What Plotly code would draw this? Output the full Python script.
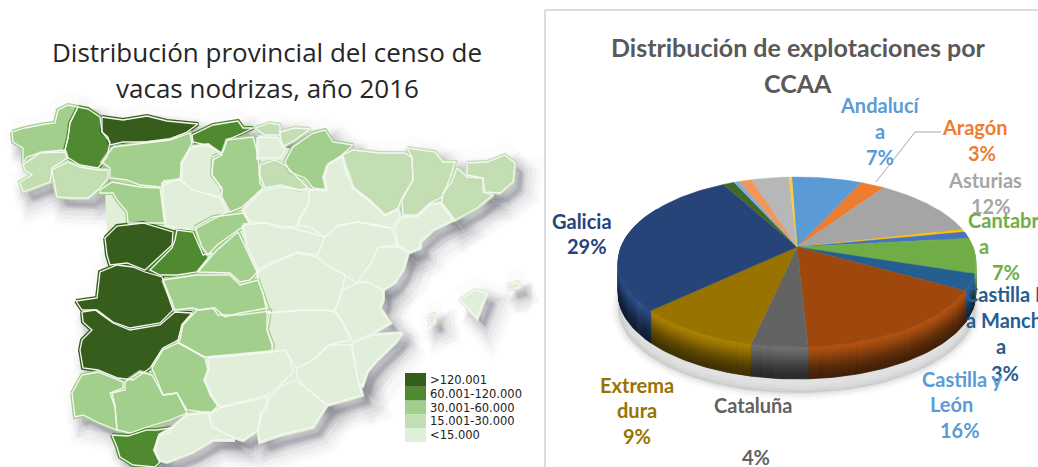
import math
import plotly.graph_objects as go

# ---------- map data: province outlines on the map's own grid, and census class ----------
LEVEL_COLORS = ["#375d1d", "#4f8a30", "#a3cf8c", "#c2deb2", "#e1eed9"]
LEGEND_LABELS = [">120.001", "60.001-120.000", "30.001-60.000", "15.001-30.000", "<15.000"]
PROVINCES = {
 "A Coruña": (2, [(12,132),(25,128),(45,124),(55,123),(58,110),(68,105),(78,107),(70,123),(68,138),(65,150),(43,152),(27,157),(23,163),(23,148),(13,142)]),
 "Lugo": (1, [(78,107),(88,109),(100,117),(102,132),(110,142),(107,157),(98,168),(80,165),(67,157),(65,150),(68,138),(70,123)]),
 "Asturias": (0, [(102,117),(123,120),(147,116),(167,121),(198,124),(187,132),(170,139),(147,142),(123,142),(110,145),(108,137),(102,132)]),
 "Cantabria": (1, [(192,135),(213,125),(238,121),(243,128),(253,128),(243,133),(227,140),(222,153),(207,145),(193,142)]),
 "Pontevedra": (3, [(23,165),(40,153),(65,152),(67,158),(52,168),(50,182),(23,192),(20,182),(32,175),(25,170)]),
 "Ourense": (3, [(52,170),(68,162),(80,167),(98,170),(108,170),(108,178),(100,188),(88,198),(72,198),(57,197),(55,187)]),
 "León": (2, [(113,147),(170,140),(190,133),(192,143),(182,163),(180,178),(160,187),(140,185),(127,180),(110,178),(110,168),(102,162)]),
 "Palencia": (4, [(192,147),(208,145),(222,155),(213,160),(212,175),(222,190),(220,197),(203,193),(192,190),(182,180),(182,163)]),
 "Burgos": (2, [(213,157),(223,152),(227,140),(253,137),(258,155),(260,183),(263,188),(242,207),(230,212),(222,197),(222,188),(212,175)]),
 "Zamora": (2, [(100,190),(112,182),(140,187),(160,188),(163,210),(165,223),(128,223),(127,212),(117,200),(113,193),(100,193)]),
 "Valladolid": (4, [(163,182),(180,180),(193,190),(220,198),(227,212),(193,230),(178,228),(166,225),(163,200)]),
 "Salamanca": (0, [(105,238),(117,226),(143,223),(173,232),(172,245),(158,258),(145,270),(127,263),(110,265),(107,255)]),
 "Ávila": (1, [(177,230),(193,232),(203,255),(212,253),(197,272),(177,275),(160,275),(150,270),(172,248),(175,240)]),
 "Segovia": (2, [(195,227),(213,217),(243,213),(250,223),(238,230),(217,245),(208,255),(202,247)]),
 "Madrid": (2, [(238,232),(245,247),(257,272),(250,280),(240,282),(230,273),(198,272),(217,250)]),
 "Soria": (4, [(243,210),(263,190),(280,187),(300,190),(310,190),(308,205),(300,220),(297,227),(280,226),(267,223),(250,222)]),
 "La Rioja": (3, [(260,165),(275,160),(285,165),(295,175),(308,188),(300,190),(280,185),(265,188),(260,175)]),
 "Vizcaya": (3, [(255,128),(270,123),(280,125),(280,135),(265,135)]),
 "Guipúzcoa": (3, [(280,132),(295,128),(310,129),(295,140),(282,147)]),
 "Álava": (4, [(258,137),(278,138),(285,150),(280,158),(258,158)]),
 "Navarra": (2, [(285,162),(293,147),(313,133),(325,130),(333,142),(353,145),(342,155),(328,165),(325,177),(327,190),(313,188),(305,178),(290,172)]),
 "Huesca": (3, [(343,155),(353,150),(380,153),(405,153),(412,158),(413,180),(402,198),(398,208),(385,215),(370,200),(353,188),(345,170)]),
 "Lleida": (3, [(407,148),(435,152),(443,162),(455,162),(450,178),(442,197),(430,203),(417,215),(403,215),(402,200),(413,180),(412,157)]),
 "Girona": (3, [(467,163),(487,162),(505,155),(515,163),(513,182),(500,193),(485,192),(483,178),(467,175)]),
 "Barcelona": (3, [(457,168),(467,177),(483,178),(483,192),(493,195),(477,208),(455,220),(442,203),(443,193),(452,182)]),
 "Tarragona": (4, [(402,217),(417,217),(430,205),(440,203),(453,220),(433,230),(420,242),(420,248),(410,252),(398,245),(395,228)]),
 "Zaragoza": (4, [(328,165),(342,157),(353,188),(370,202),(385,216),(398,210),(400,217),(392,228),(377,225),(358,222),(338,225),(325,237),(310,227),(297,225),(302,212),(308,205),(310,190),(327,191),(324,177)]),
 "Teruel": (4, [(325,237),(338,226),(358,222),(377,226),(392,228),(397,245),(378,247),(373,260),(357,283),(345,275),(332,268),(317,257)]),
 "Guadalajara": (4, [(243,225),(267,223),(280,228),(290,228),(300,230),(325,237),(317,255),(297,252),(270,263),(258,270),(247,245)]),
 "Cuenca": (4, [(270,265),(297,253),(317,257),(332,268),(345,275),(342,290),(335,310),(323,310),(303,310),(267,313),(263,293),(258,280),(258,272)]),
 "Castellón": (4, [(378,247),(398,247),(408,253),(403,270),(395,282),(383,290),(367,282),(357,283),(373,260)]),
 "Valencia": (4, [(357,283),(367,282),(383,290),(383,300),(380,308),(390,323),(373,333),(353,342),(342,320),(335,310),(343,290)]),
 "Alicante": (4, [(353,343),(373,335),(402,333),(395,343),(377,360),(367,372),(362,387),(358,380),(352,350)]),
 "Murcia": (4, [(330,345),(352,345),(358,380),(362,395),(327,405),(305,387),(297,377),(297,368),(313,360)]),
 "Albacete": (4, [(267,313),(303,310),(323,310),(335,312),(342,322),(350,340),(328,345),(313,360),(296,368),(290,358),(285,350),(272,352),(272,345),(267,330)]),
 "Cáceres": (0, [(76,301),(97,298),(100,272),(117,265),(133,267),(145,272),(162,277),(170,300),(173,310),(160,323),(130,328),(113,322),(97,310),(82,310)]),
 "Badajoz": (0, [(82,312),(95,310),(113,323),(130,330),(160,325),(175,312),(192,313),(182,325),(178,340),(163,348),(150,368),(133,380),(118,378),(98,370),(83,368),(80,350),(82,340),(92,330),(83,322)]),
 "Toledo": (2, [(163,280),(197,275),(230,275),(240,285),(258,280),(263,293),(268,308),(240,313),(225,317),(215,308),(200,310),(192,308),(175,310),(170,297)]),
 "Ciudad Real": (2, [(180,340),(183,325),(197,310),(213,308),(218,315),(240,315),(270,311),(267,330),(273,345),(272,351),(233,355),(205,357),(178,342)]),
 "Córdoba": (2, [(152,368),(163,350),(178,343),(205,358),(208,370),(205,380),(210,395),(218,406),(210,413),(187,410),(177,393),(163,395),(157,380)]),
 "Sevilla": (2, [(112,393),(125,390),(125,382),(140,372),(152,375),(160,390),(163,395),(177,393),(187,413),(170,420),(147,427),(130,433),(117,430),(115,405)]),
 "Huelva": (2, [(72,393),(82,375),(98,372),(123,382),(123,388),(110,393),(115,407),(117,430),(97,422),(83,415),(75,417)]),
 "Cádiz": (1, [(112,435),(128,436),(147,430),(157,430),(170,428),(170,432),(158,437),(155,452),(160,462),(155,467),(133,465),(120,457),(117,447)]),
 "Málaga": (4, [(172,428),(187,415),(208,413),(212,427),(233,437),(233,440),(213,440),(193,452),(167,462),(160,460),(155,450),(160,435)]),
 "Jaén": (4, [(208,358),(233,356),(272,352),(285,350),(290,358),(293,372),(280,385),(267,395),(220,407),(212,395),(205,380),(209,370)]),
 "Granada": (4, [(210,415),(220,408),(267,397),(267,410),(260,413),(258,430),(243,440),(233,437),(212,427)]),
 "Almería": (4, [(295,380),(305,387),(327,405),(313,427),(280,435),(270,438),(260,442),(258,430),(262,413),(270,397),(280,387)]),
 "Mallorca": (4, [(460,300),(475,290),(487,293),(480,310),(477,318),(465,305)]),
 "Menorca": (4, [(507,285),(518,282),(520,287),(510,290)]),
 "Ibiza": (4, [(428,316),(434,314),(435,322),(430,324)]),
}
INTERIOR = [(130,150),(250,142),(300,150),(340,165),(400,225),(372,300),(340,380),(260,425),(170,410),(110,300),(105,190)]

# ---------- pie data ----------
PIE_NAMES = ["Andalucía","Aragón","Asturias","Baleares","Canarias","Cantabria","Castilla La Mancha",
             "Castilla y León","Cataluña","Extremadura","Galicia","Madrid","Murcia","Navarra","País Vasco","La Rioja"]
PIE_VALUES = [7.5,2.6,11.9,0.55,1.25,6.7,3.1,16.1,4.3,9.6,28.9,1.2,0.55,1.4,4.0,0.3]
PIE_COLORS = ["#5b9bd5","#ed7d31","#a5a5a5","#ffc000","#4472c4","#70ad47","#255e91","#9e480e",
              "#636363","#997300","#264478","#43682b","#7cafdd","#f1975a","#b7b7b7","#ffcd33"]
PIE_START_DEG = -2.0
PIE_CX, PIE_CY, PIE_B, PIE_A, PIE_K, PIE_DEPTH = 797, 247, 176, 82.4, 0.176, 32
WALL_SHADE = [1.12, 1.02, 0.9, 0.76, 0.63, 0.53, 0.45, 0.4]

TEXT = "Lato"
LABELS = [  # text, colour, x, y, anchor
 ("Andalucí","#5b9bd5",880,105,"center"),("a","#5b9bd5",880,131,"center"),("7%","#5b9bd5",880,157,"center"),
 ("Aragón","#ed7d31",975,127,"center"),("3%","#ed7d31",982,153,"center"),
 ("Asturias","#a5a5a5",985,180,"center"),("12%","#a5a5a5",991,206,"center"),
 ("Cantabri","#70ad47",966,220,"left"),("a","#70ad47",984,246,"center"),("7%","#70ad47",1006,272,"center"),
 ("Castilla L","#255e91",963,294,"left"),("a Manch","#255e91",964,320,"left"),("a","#255e91",1001,346,"center"),("3%","#255e91",1005,373,"center"),
 ("Castilla y","#5b9bd5",962,379,"center"),("León","#5b9bd5",951,404,"center"),("16%","#5b9bd5",960,430,"center"),
 ("Cataluña","#636363",753,405,"center"),("4%","#636363",756,457,"center"),
 ("Extrema","#997300",637,385,"center"),("dura","#997300",637,410,"center"),("9%","#997300",637,436,"center"),
 ("Galicia","#264478",582,221,"center"),("29%","#264478",587,246,"center"),
]

fig = go.Figure()

def add_poly(xs, ys, color, line=None, width=0, **kw):
    fig.add_trace(go.Scatter(x=xs, y=ys, mode="lines", fill="toself", fillcolor=color,
        line=dict(color=line or color, width=width), hoverinfo="skip", showlegend=False, **kw))

# map shadow
def merged(dx, dy):
    xs, ys = [], []
    for _, pts in PROVINCES.values():
        closed = pts + pts[:1]
        xs += [p[0] + dx for p in closed] + [None]
        ys += [p[1] + dy for p in closed] + [None]
    return xs, ys

for (dx, dy, w, a) in [(11, 12, 34, .02), (11, 12, 28, .03), (10, 11, 22, .04), (9, 10, 16, .05),
                       (8, 9, 10, .07), (7, 8, 5, .09), (0, -3, 18, .02)]:
    xs, ys = merged(dx, dy)
    c = f"rgba(85,85,100,{a})"
    add_poly(xs, ys, c, line=c, width=w)

# mainland underlay so that no shadow shows through between neighbours
add_poly([p[0] for p in INTERIOR + INTERIOR[:1]], [p[1] for p in INTERIOR + INTERIOR[:1]], LEVEL_COLORS[4])

# province fills, slightly grown so neighbours meet, then the white borders on top
for name, (level, pts) in PROVINCES.items():
    closed = pts + pts[:1]
    add_poly([p[0] for p in closed], [p[1] for p in closed], LEVEL_COLORS[level],
             line=LEVEL_COLORS[level], width=4, name=name)
for name, (level, pts) in PROVINCES.items():
    closed = pts + pts[:1]
    fig.add_trace(go.Scatter(x=[p[0] for p in closed], y=[p[1] for p in closed], mode="lines",
                             line=dict(color="#f4f8f0", width=1.3), hoverinfo="skip", showlegend=False))

# pie projection
def project(deg, lift=0.0):
    t = math.radians(deg)
    u, v = math.sin(t), math.cos(t)
    w = 1 + PIE_K * v
    return PIE_CX + PIE_B * u / w, PIE_CY - PIE_A * v / w + lift

def shade(hexcol, m):
    r, g, b = (int(hexcol[i:i + 2], 16) for i in (1, 3, 5))
    return "rgb(%d,%d,%d)" % (min(255, r * m), min(255, g * m), min(255, b * m))

# ground shadow
ring = [project(d, 46) for d in range(0, 361, 3)]
for w, a in [(14, .05), (8, .07), (3, .1)]:
    c = f"rgba(120,120,120,{a})"
    add_poly([p[0] for p in ring], [p[1] for p in ring], c, line=c, width=w)

total = sum(PIE_VALUES)
edges = [PIE_START_DEG]
for val in PIE_VALUES:
    edges.append(edges[-1] + val / total * 360)

def arc(a0, a1):
    n = max(2, int((a1 - a0) / 1.5) + 2)
    return [a0 + (a1 - a0) * i / (n - 1) for i in range(n)]

# walls
steps = 32
def wall_mult(f):
    p = f * (len(WALL_SHADE) - 1)
    j = min(int(p), len(WALL_SHADE) - 2)
    return WALL_SHADE[j] + (WALL_SHADE[j + 1] - WALL_SHADE[j]) * (p - j)

for i, col in enumerate(PIE_COLORS):
    a0, a1 = max(edges[i], 60), min(edges[i + 1], 300)
    if a1 <= a0:
        continue
    degs = arc(a0, a1)
    for b in range(steps - 1, -1, -1):
        top = PIE_DEPTH * b / steps
        bot = PIE_DEPTH * (b + 1) / steps
        pts = [project(d, top) for d in degs] + [project(d, bot) for d in reversed(degs)]
        c = shade(col, wall_mult(b / (steps - 1)))
        add_poly([p[0] for p in pts] + [pts[0][0]], [p[1] for p in pts] + [pts[0][1]], c, line=c, width=0.8)

# top face
for i, col in enumerate(PIE_COLORS):
    pts = [(PIE_CX, PIE_CY)] + [project(d) for d in arc(edges[i], edges[i + 1])] + [(PIE_CX, PIE_CY)]
    add_poly([p[0] for p in pts], [p[1] for p in pts], col, line=col, width=0.4, name=PIE_NAMES[i])

# leader line for Aragón
fig.add_trace(go.Scatter(x=[876, 915, 941], y=[182, 132, 132], mode="lines",
                         line=dict(color="#a6a6a6", width=1), hoverinfo="skip", showlegend=False))

annotations = []
def note(text, x, y, size, color, family=TEXT, bold=False, anchor="center"):
    annotations.append(dict(text=f"<b>{text}</b>" if bold else text, x=x, y=y, xref="x", yref="y",
                            xanchor=anchor, yanchor="middle", showarrow=False,
                            font=dict(size=size, color=color, family=family)))

note("Distribución provincial del censo de", 267, 52, 26, "#262626", family="Open Sans")
note("vacas nodrizas, año 2016", 267, 88, 26, "#262626", family="Open Sans")
note("Distribución de explotaciones por", 798, 47, 25, "#595959", bold=True)
note("CCAA", 798, 83, 25, "#595959", bold=True)
for text, color, x, y, anchor in LABELS:
    note(text, x, y, 20, color, bold=True, anchor=anchor)

shapes = [
    dict(type="line", x0=545, x1=545, y0=10, y1=467, line=dict(color="#dcdcdc", width=2), layer="below"),
    dict(type="line", x0=545, x1=1038, y0=10, y1=10, line=dict(color="#dcdcdc", width=2), layer="below"),
    dict(type="rect", x0=404, x1=526, y0=372, y1=442, fillcolor="#ffffff", line=dict(width=0)),
]
for i, (col, lab) in enumerate(zip(LEVEL_COLORS, LEGEND_LABELS)):
    y0 = 373 + i * 13.8
    shapes.append(dict(type="rect", x0=405, x1=426, y0=y0, y1=y0 + 13.8, fillcolor=col, line=dict(width=0)))
    note(lab, 428, y0 + 7, 11.5, "#222222", family="DejaVu Sans", anchor="left")

fig.update_layout(
    width=1038, height=467, margin=dict(l=0, r=0, t=0, b=0),
    paper_bgcolor="#ffffff", plot_bgcolor="#ffffff", showlegend=False,
    xaxis=dict(range=[0, 1038], visible=False, fixedrange=True),
    yaxis=dict(range=[467, 0], visible=False, fixedrange=True),
    annotations=annotations, shapes=shapes,
)
fig.write_html("out.html", config=dict(displayModeBar=False),
               post_script="document.body.style.margin='0';document.body.style.overflow='hidden';")
